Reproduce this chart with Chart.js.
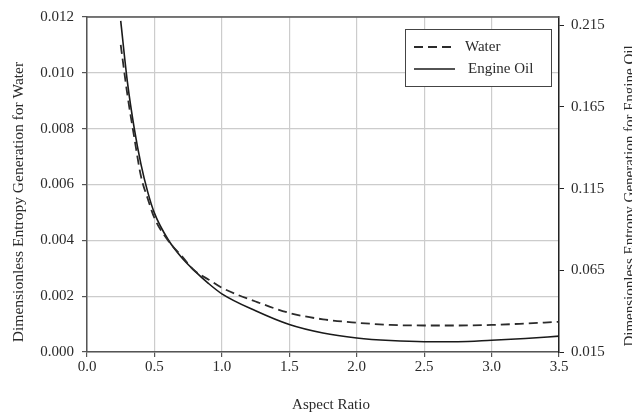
<!DOCTYPE html>
<html>
<head>
<meta charset="utf-8">
<script src="https://cdn.jsdelivr.net/npm/chart.js@4.4.1/dist/chart.umd.min.js"></script>
<style>
  html, body { margin: 0; padding: 0; background: #fff; }
  canvas { display: block; }
</style>
</head>
<body>
<canvas id="chart" width="632" height="417"></canvas>
<script>
// データ
const aspectRatio = [0.25, 0.3, 0.35, 0.4, 0.45, 0.5, 0.6, 0.7, 0.8, 0.9, 1.0, 1.25, 1.5, 1.75, 2.0, 2.25, 2.5, 2.75, 3.0, 3.25, 3.5];
const waterEntropy = [0.0110, 0.0092, 0.0077, 0.0063, 0.0055, 0.0048, 0.0040, 0.00345, 0.0029, 0.0026, 0.0023, 0.00181, 0.00140, 0.00117, 0.00105, 0.00097, 0.00095, 0.00095, 0.00097, 0.00102, 0.00108];
const oilEntropy = [0.2176, 0.180, 0.152, 0.130, 0.113, 0.100, 0.084, 0.073, 0.0645, 0.057, 0.0506, 0.0402, 0.0318, 0.0266, 0.0236, 0.0220, 0.0213, 0.0213, 0.0222, 0.0233, 0.0247];
const xTicks = [0, 0.5, 1.0, 1.5, 2.0, 2.5, 3.0, 3.5];
const waterTicks = [0, 0.002, 0.004, 0.006, 0.008, 0.010, 0.012];
const oilTicks = [0.015, 0.065, 0.115, 0.165, 0.215];
const seriesNames = ['Water', 'Engine Oil'];
const axisTitles = {
    x: 'Aspect Ratio',
    water: 'Dimensionless Entropy Generation for Water',
    oil: 'Dimensionless Entropy Generation for Engine Oil'
};

const FONT = '"Liberation Serif", "Times New Roman", serif';
const TEXT_COLOR = '#2a2a2a';
const AXIS_COLOR = '#555';
const GRID_COLOR = '#cccccc';

function toPoints(xs, ys) {
    return xs.map((x, i) => ({ x: x, y: ys[i] }));
}

// 軸タイトル・凡例・上枠を描くプラグイン
const decorPlugin = {
    id: 'decor',
    afterDraw(chart) {
        const ctx = chart.ctx;
        const area = chart.chartArea;
        ctx.save();

        // 上枠
        ctx.strokeStyle = AXIS_COLOR;
        ctx.lineWidth = 1.5;
        ctx.beginPath();
        ctx.moveTo(area.left, area.top);
        ctx.lineTo(area.right, area.top);
        ctx.stroke();

        // 軸タイトル
        ctx.fillStyle = TEXT_COLOR;
        ctx.font = '15px ' + FONT;
        ctx.textAlign = 'center';
        ctx.textBaseline = 'middle';
        ctx.fillText(axisTitles.x, 331, 405);

        ctx.save();
        ctx.translate(19, 202);
        ctx.rotate(-Math.PI / 2);
        ctx.font = '15.5px ' + FONT;
        ctx.fillText(axisTitles.water, 0, 0);
        ctx.restore();

        ctx.save();
        ctx.translate(630, 196);
        ctx.rotate(-Math.PI / 2);
        ctx.fillText(axisTitles.oil, 0, 0);
        ctx.restore();

        // 凡例
        const bx = 405.5, by = 29.5, bw = 146, bh = 57;
        ctx.fillStyle = '#fff';
        ctx.fillRect(bx, by, bw, bh);
        ctx.strokeStyle = '#444';
        ctx.lineWidth = 1;
        ctx.strokeRect(bx, by, bw, bh);

        const rows = [47, 69];
        const textX = [465, 468];
        chart.data.datasets.forEach((ds, i) => {
            ctx.strokeStyle = ds.borderColor;
            ctx.lineWidth = ds.borderWidth;
            ctx.setLineDash(ds.borderDash || []);
            ctx.beginPath();
            ctx.moveTo(414, rows[i]);
            ctx.lineTo(455, rows[i]);
            ctx.stroke();
            ctx.setLineDash([]);
            ctx.fillStyle = TEXT_COLOR;
            ctx.textAlign = 'left';
            ctx.fillText(ds.label, textX[i], rows[i]);
        });

        ctx.restore();
    }
};

const ctx = document.getElementById('chart').getContext('2d');
new Chart(ctx, {
    type: 'line',
    data: {
        datasets: [
            {
                label: seriesNames[0],
                data: toPoints(aspectRatio, waterEntropy),
                yAxisID: 'yWater',
                borderColor: '#2b2b2b',
                borderWidth: 1.8,
                borderDash: [9, 5],
                pointRadius: 0,
                cubicInterpolationMode: 'monotone',
                fill: false
            },
            {
                label: seriesNames[1],
                data: toPoints(aspectRatio, oilEntropy),
                yAxisID: 'yOil',
                borderColor: '#1a1a1a',
                borderWidth: 1.6,
                pointRadius: 0,
                cubicInterpolationMode: 'monotone',
                fill: false
            }
        ]
    },
    options: {
        responsive: false,
        animation: false,
        layout: { padding: { top: 13, left: 0, right: 0, bottom: 0 } },
        plugins: {
            legend: { display: false },
            tooltip: { enabled: false }
        },
        scales: {
            x: {
                type: 'linear',
                min: 0,
                max: 3.5,
                afterFit(scale) { scale.height = 65; },
                afterBuildTicks(axis) { axis.ticks = xTicks.map(v => ({ value: v })); },
                ticks: {
                    color: TEXT_COLOR,
                    font: { family: FONT, size: 15 },
                    padding: 1,
                    maxRotation: 0,
                    callback: v => v.toFixed(1)
                },
                grid: { color: GRID_COLOR, lineWidth: 1.2, tickColor: AXIS_COLOR, tickLength: 5 },
                border: { color: AXIS_COLOR, width: 1.5 }
            },
            yWater: {
                type: 'linear',
                position: 'left',
                min: 0,
                max: 0.012,
                afterFit(scale) { scale.width = 87; },
                afterBuildTicks(axis) { axis.ticks = waterTicks.map(v => ({ value: v })); },
                ticks: {
                    color: TEXT_COLOR,
                    font: { family: FONT, size: 15 },
                    padding: 8,
                    callback: v => v.toFixed(3)
                },
                grid: { color: GRID_COLOR, lineWidth: 1.2, tickColor: AXIS_COLOR, tickLength: 5 },
                border: { color: AXIS_COLOR, width: 1.5 }
            },
            yOil: {
                type: 'linear',
                position: 'right',
                min: 0.015,
                max: 0.22,
                afterFit(scale) { scale.width = 73; },
                afterBuildTicks(axis) { axis.ticks = oilTicks.map(v => ({ value: v })); },
                ticks: {
                    color: TEXT_COLOR,
                    font: { family: FONT, size: 15 },
                    padding: 7,
                    callback: v => v.toFixed(3)
                },
                grid: { drawOnChartArea: false, tickColor: '#222', tickLength: 5 },
                border: { color: '#222', width: 1.5 }
            }
        }
    },
    plugins: [decorPlugin]
});
</script>
</body>
</html>
